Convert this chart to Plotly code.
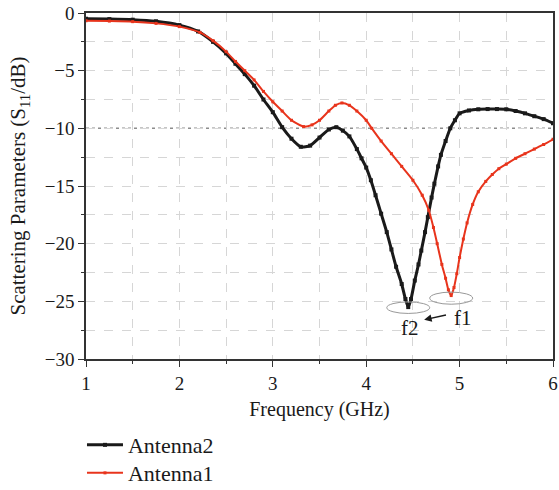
import plotly.graph_objects as go

# Antenna2 (black)
freq_a2 = [1.0, 1.25, 1.5, 1.75, 2.0, 2.2, 2.36, 2.5, 2.6, 2.7, 2.8, 2.9, 3.0, 3.1, 3.2, 3.3,
           3.4, 3.5, 3.6, 3.68, 3.75, 3.82, 3.9, 3.95, 4.0, 4.05, 4.1, 4.16, 4.22, 4.27, 4.32,
           4.38, 4.42, 4.45, 4.48, 4.52, 4.56, 4.59, 4.63, 4.66, 4.70, 4.73, 4.77, 4.80, 4.85,
           4.90, 4.95, 5.0, 5.1, 5.2, 5.3, 5.4, 5.5, 5.6, 5.7, 5.8, 5.9, 6.0]
s11_a2 = [-0.5, -0.53, -0.58, -0.72, -1.05, -1.6, -2.5, -3.5, -4.4, -5.3, -6.3, -7.5, -8.6, -9.9, -10.9, -11.6,
          -11.5, -10.8, -10.1, -9.9, -10.2, -10.7, -11.8, -12.6, -13.4, -14.5, -15.8, -17.4, -19.0, -20.5, -22.0,
          -23.5, -24.8, -25.5, -24.8, -23.2, -21.8, -20.6, -19.0, -17.7, -16.0, -14.8, -13.3, -12.3, -11.1,
          -10.0, -9.3, -8.7, -8.45, -8.35, -8.33, -8.33, -8.35, -8.5, -8.7, -8.95, -9.2, -9.55]

# Antenna1 (red)
freq_a1 = [1.0, 1.25, 1.5, 1.75, 2.0, 2.22, 2.36, 2.5, 2.6, 2.7, 2.8, 2.9, 3.0, 3.1, 3.2, 3.33,
           3.42, 3.5, 3.6, 3.67, 3.74, 3.82, 3.9, 4.0, 4.06, 4.16, 4.27, 4.38, 4.5, 4.6, 4.67,
           4.72, 4.76, 4.81, 4.85, 4.88, 4.91, 4.94, 4.97, 5.0, 5.04, 5.08, 5.14, 5.2, 5.28,
           5.35, 5.42, 5.5, 5.6, 5.7, 5.8, 5.9, 6.0]
s11_a1 = [-0.67, -0.7, -0.75, -0.9, -1.18, -1.68, -2.4, -3.35, -4.2, -5.0, -5.8, -6.8, -7.7, -8.5, -9.3, -9.85,
          -9.7, -9.3, -8.5, -8.0, -7.8, -8.0, -8.5, -9.3, -10.0, -11.1, -12.2, -13.3, -14.5, -15.8, -17.1,
          -18.6, -20.0, -21.8, -23.0, -24.0, -24.5, -23.8, -22.6, -21.2, -19.6, -18.2, -16.6, -15.5, -14.6,
          -14.0, -13.5, -13.1, -12.6, -12.2, -11.8, -11.4, -10.95]

x_ticks = [1, 2, 3, 4, 5, 6]
y_ticks = [0, -5, -10, -15, -20, -25, -30]
threshold = -10

FONT = "Liberation Serif"
BLACK = "#1a1a1a"
RED = "#e8341c"

fig = go.Figure()
fig.add_trace(go.Scatter(
    x=freq_a2, y=s11_a2, name="Antenna2", mode="lines+markers",
    line=dict(color=BLACK, width=3, shape="spline", smoothing=0.6),
    marker=dict(symbol="square", size=4, color=BLACK),
    legend="legend",
))
fig.add_trace(go.Scatter(
    x=freq_a1, y=s11_a1, name="Antenna1", mode="lines+markers",
    line=dict(color=RED, width=2, shape="spline", smoothing=0.6),
    marker=dict(symbol="square", size=3, color=RED),
    legend="legend2",
))

# -10 dB reference line
fig.add_shape(type="line", xref="paper", x0=0, x1=1, y0=threshold, y1=threshold,
              line=dict(color="#8c8c8c", width=1.5, dash="dot"), layer="below")

# ellipses marking resonances
fig.add_shape(type="circle", x0=4.22, x1=4.68, y0=-26.05, y1=-25.05,
              line=dict(color="#999999", width=1))
fig.add_shape(type="circle", x0=4.68, x1=5.14, y0=-25.25, y1=-24.2,
              line=dict(color="#999999", width=1))

fig.add_annotation(x=4.47, y=-27.35, text="f2", showarrow=False,
                   font=dict(family=FONT, size=21, color=BLACK))
fig.add_annotation(x=5.04, y=-26.45, text="f1", showarrow=False,
                   font=dict(family=FONT, size=21, color=BLACK))
fig.add_annotation(x=4.62, y=-26.6, ax=4.87, ay=-26.15, axref="x", ayref="y",
                   xref="x", yref="y", text="", showarrow=True,
                   arrowhead=2, arrowsize=1, arrowwidth=1.5, arrowcolor=BLACK)

axis_common = dict(
    showline=True, linecolor="#333333", linewidth=1.5, mirror=True,
    ticks="outside", ticklen=6, tickwidth=1.2, tickcolor="#333333",
    showgrid=True, gridcolor="#d6d6d6", griddash="dash", gridwidth=1,
    zeroline=False,
    tickfont=dict(family=FONT, size=19, color=BLACK),
)

fig.update_xaxes(
    range=[1, 6], tickvals=x_ticks,
    title=dict(text="Frequency (GHz)", font=dict(family=FONT, size=20, color=BLACK), standoff=9),
    minor=dict(dtick=0.5, tick0=1, ticks="outside", ticklen=3, tickcolor="#333333",
               showgrid=True, gridcolor="#d6d6d6", griddash="dash"),
    **axis_common,
)
fig.update_yaxes(
    range=[-30, 0], tickvals=y_ticks,
    title=dict(text="Scattering Parameters (S<sub>11</sub>/dB)",
               font=dict(family=FONT, size=21, color=BLACK), standoff=13),
    minor=dict(dtick=2.5, tick0=0, ticks="outside", ticklen=3, tickcolor="#333333",
               showgrid=True, gridcolor="#d6d6d6", griddash="dash"),
    **axis_common,
)

legend_style = dict(
    xanchor="left", yanchor="top",
    font=dict(family=FONT, size=22, color=BLACK),
    itemwidth=36, bgcolor="rgba(0,0,0,0)",
)

fig.update_layout(
    width=559, height=490,
    margin=dict(l=86, r=6, t=13, b=131, autoexpand=False),
    plot_bgcolor="white", paper_bgcolor="white",
    font=dict(family=FONT, size=19, color=BLACK),
    showlegend=True,
    legend=dict(x=-0.0086, y=-0.188, **legend_style),
    legend2=dict(x=-0.0086, y=-0.269, **legend_style),
)

fig.write_html("out.html")
